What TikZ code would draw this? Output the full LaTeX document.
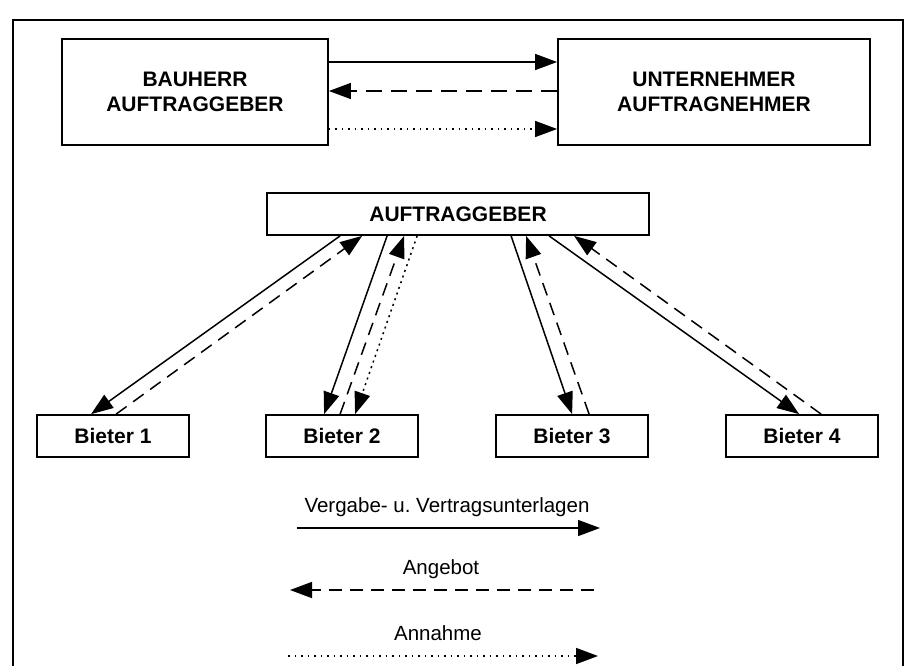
\documentclass[tikz,border=0pt]{standalone}
\usepackage{fontspec}
\setmainfont{Liberation Sans}
\usetikzlibrary{arrows.meta,positioning}

\begin{document}
\begin{tikzpicture}
  [
  x=1pt, y=-1pt, line width=1.5pt, draw=black,
  font=\fontsize{21}{25}\selectfont\bfseries,
  >={Triangle[length=22pt,width=16pt]},
  partynode/.style={rectangle, inner sep=0pt, draw=black, line width=1.8pt, align=center},
  bieternode/.style={partynode, minimum width=152pt, minimum height=42pt},
  contract/.style={->},
  offer/.style={->, dash pattern=on 13pt off 8pt},
  accept/.style={->, dash pattern=on 2pt off 4pt},
  legendtext/.style={font=\fontsize{20.5}{24}\selectfont},
  ]

  \useasboundingbox (0,0) rectangle (917,666);
  \draw (13,666) -- (13,20) -- (903,20) -- (903,666);

  % oben: Bauherr und Unternehmer
  \node[partynode, minimum width=266pt, minimum height=106pt] (bauherr) at (195,92) {BAUHERR\\AUFTRAGGEBER};
  \node[partynode, minimum width=312pt, minimum height=106pt] (unternehmer) at (714,92) {UNTERNEHMER\\AUFTRAGNEHMER};
  \draw[contract] ([yshift=30pt]bauherr.east) -- ([yshift=30pt]unternehmer.west);
  \draw[offer, dash pattern=on 16pt off 9pt] ([yshift=1pt]unternehmer.west) -- ([yshift=1pt]bauherr.east);
  \draw[accept, dash pattern=on 1.5pt off 5pt] ([yshift=-37pt]bauherr.east) -- ([yshift=-37pt]unternehmer.west);

  % Ausschreibung
  \node[partynode, minimum width=382pt, minimum height=42pt] (ag) at (458,214) {AUFTRAGGEBER};
  \node[bieternode] (b1) at (113,436) {Bieter 1};
  \node[bieternode] (b2) at (342,436) {Bieter 2};
  \node[bieternode] (b3) at (572,436) {Bieter 3};
  \node[bieternode] (b4) at (802,436) {Bieter 4};

  \draw[contract] ([xshift=74pt]ag.south west) -- ([xshift=55pt]b1.north west);
  \draw[offer] ([xshift=80pt]b1.north west) -- ([xshift=96pt]ag.south west);

  \draw[contract] ([xshift=121pt]ag.south west) -- ([xshift=59pt]b2.north west);
  \draw[offer] ([xshift=75pt]b2.north west) -- ([xshift=138pt]ag.south west);
  \draw[accept] ([xshift=151pt]ag.south west) -- ([xshift=90pt]b2.north west);

  \draw[contract] ([xshift=245pt]ag.south west) -- ([xshift=77pt]b3.north west);
  \draw[offer] ([xshift=94pt]b3.north west) -- ([xshift=260pt]ag.south west);

  \draw[contract] ([xshift=283pt]ag.south west) -- ([xshift=74pt]b4.north west);
  \draw[offer] ([xshift=96pt]b4.north west) -- ([xshift=308pt]ag.south west);

  % Legende
  \node[legendtext] (lgvergabe) at (447,507) {Vergabe- u.\ Vertragsunterlagen};
  \node[legendtext] (lgangebot) at (441,569) {Angebot};
  \node[legendtext] (lgannahme) at (438,633) {Annahme};
  \coordinate (v1) at (297,528);
  \coordinate (v2) at (600,528);
  \coordinate (a1) at (290,590);
  \coordinate (a2) at (594,590);
  \coordinate (n1) at (288,656);
  \coordinate (n2) at (598,656);
  \draw[contract] (v1) -- (v2);
  \draw[offer] (a2) -- (a1);
  \draw[accept, dash pattern=on 1.5pt off 5pt] (n1) -- (n2);

\end{tikzpicture}
\end{document}
